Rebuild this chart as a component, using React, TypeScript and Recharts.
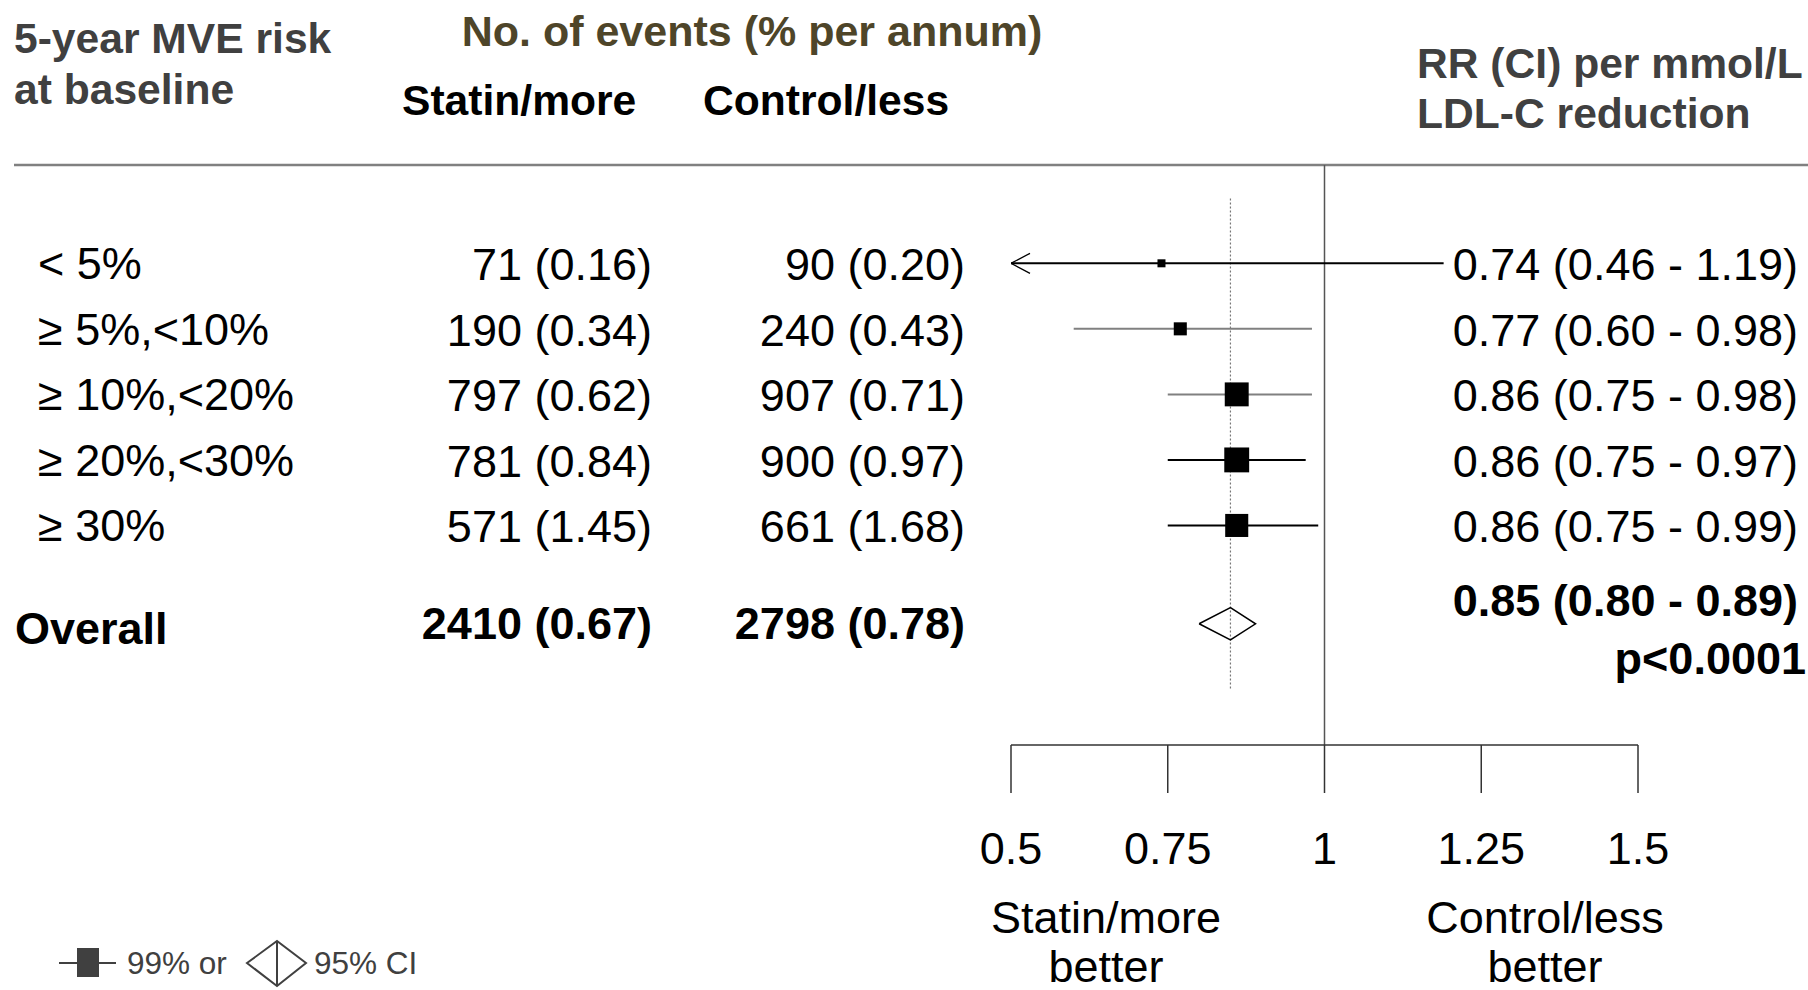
import {
  ComposedChart,
  XAxis,
  YAxis,
  Scatter,
  Line,
  ReferenceLine,
  Customized,
} from 'recharts';

const FONT = '"Liberation Sans", Arial, Helvetica, sans-serif';

// Table rows (5-year MVE risk groups)
const RISK_GROUPS = ['< 5%', '≥ 5%,<10%', '≥ 10%,<20%', '≥ 20%,<30%', '≥ 30%'];
const STATIN_EVENTS = [71, 190, 797, 781, 571];
const STATIN_RATE = [0.16, 0.34, 0.62, 0.84, 1.45];
const CONTROL_EVENTS = [90, 240, 907, 900, 661];
const CONTROL_RATE = [0.2, 0.43, 0.71, 0.97, 1.68];
const RR = [0.74, 0.77, 0.86, 0.86, 0.86];
const RR_LO = [0.46, 0.6, 0.75, 0.75, 0.75];
const RR_HI = [1.19, 0.98, 0.98, 0.97, 0.99];

// Overall row
const OVERALL_STATIN = [2410, 0.67];
const OVERALL_CONTROL = [2798, 0.78];
const OVERALL_RR = [0.85, 0.8, 0.89];
const OVERALL_P = 'p<0.0001';

const X_TICKS = [0.5, 0.75, 1, 1.25, 1.5];
const X_MIN = 0.5;
const X_MAX = 1.5;

// row slots on the y axis
const ROW_POS = [0, 1, 2, 3, 4];
const OVERALL_POS = 5.5;

// line colours per row, as in the original slide
const CI_STROKES = ['#000', '#808080', '#808080', '#000', '#000'];
const SQUARE_K = 6.4; // square side ~ 1 / log CI width
const DIAMOND_HALF = 0.245;

// column anchors (right edges of the number columns)
const COL_STATIN = 652;
const COL_CONTROL = 965;
const COL_RR = 1798;

const rows = RISK_GROUPS.map((label, i) => ({
  label,
  x: RR[i],
  y: ROW_POS[i],
  lo: RR_LO[i],
  hi: RR_HI[i],
}));

const arrows = rows.filter(r => r.lo < X_MIN).map(r => ({ x: X_MIN, y: r.y }));

const diamond = [
  { x: OVERALL_RR[1], y: OVERALL_POS },
  { x: OVERALL_RR[0], y: OVERALL_POS - DIAMOND_HALF },
  { x: OVERALL_RR[2], y: OVERALL_POS },
  { x: OVERALL_RR[0], y: OVERALL_POS + DIAMOND_HALF },
  { x: OVERALL_RR[1], y: OVERALL_POS },
];

const fmt = (n: number, r: number) => `${n} (${r.toFixed(2)})`;
const fmtRR = (e: number, lo: number, hi: number) =>
  `${e.toFixed(2)} (${lo.toFixed(2)} - ${hi.toFixed(2)})`;

function RowTick({ y, payload }: any) {
  const v = Number(payload.value);
  if (v === OVERALL_POS) {
    return (
      <g fontFamily={FONT} fontSize={45} fontWeight="bold" fill="#000">
        <text x={15} y={y + 20} fill="#000">Overall</text>
        <text x={COL_STATIN} y={y + 15} textAnchor="end" fill="#000">
          {fmt(OVERALL_STATIN[0], OVERALL_STATIN[1])}
        </text>
        <text x={COL_CONTROL} y={y + 15} textAnchor="end" fill="#000">
          {fmt(OVERALL_CONTROL[0], OVERALL_CONTROL[1])}
        </text>
        <text x={COL_RR} y={y - 8} textAnchor="end" fill="#000">
          {fmtRR(OVERALL_RR[0], OVERALL_RR[1], OVERALL_RR[2])}
        </text>
        <text x={1806} y={y + 50} textAnchor="end" fill="#000">{OVERALL_P}</text>
      </g>
    );
  }
  const i = ROW_POS.indexOf(v);
  if (i < 0) return <g />;
  return (
    <g fontFamily={FONT} fontSize={45} fill="#000">
      <text x={38} y={y + 16} fill="#000">{RISK_GROUPS[i]}</text>
      <text x={COL_STATIN} y={y + 17} textAnchor="end" fill="#000">
        {fmt(STATIN_EVENTS[i], STATIN_RATE[i])}
      </text>
      <text x={COL_CONTROL} y={y + 17} textAnchor="end" fill="#000">
        {fmt(CONTROL_EVENTS[i], CONTROL_RATE[i])}
      </text>
      <text x={COL_RR} y={y + 17} textAnchor="end" fill="#000">
        {fmtRR(RR[i], RR_LO[i], RR_HI[i])}
      </text>
    </g>
  );
}

function AxisTick({ x, y, payload }: any) {
  return (
    <text x={x} y={y + 71} textAnchor="middle" fontFamily={FONT} fontSize={45} fill="#000">
      {payload.value}
    </text>
  );
}

const squareShape = (props: any) => {
  const { cx, cy, payload } = props;
  const s = Math.max(8, SQUARE_K / Math.log(payload.hi / payload.lo));
  return <rect x={cx - s / 2} y={cy - s / 2} width={s} height={s} fill="#000" />;
};

const arrowShape = (props: any) => {
  const { cx, cy } = props;
  return (
    <path
      d={`M${cx + 19},${cy - 10} L${cx},${cy} L${cx + 19},${cy + 10}`}
      fill="none"
      stroke="#000"
      strokeWidth={1.3}
    />
  );
};

function Decorations() {
  return (
    <g fontFamily={FONT}>
      {/* column headers */}
      <text x={14} y={53} fontSize={42.6} fontWeight="bold" fill="#404040">5-year MVE risk</text>
      <text x={14} y={104} fontSize={42.6} fontWeight="bold" fill="#404040">at baseline</text>
      <text x={752} y={46} fontSize={43} fontWeight="bold" fill="#4e4529" textAnchor="middle">
        No. of events (% per annum)
      </text>
      <text x={402} y={115} fontSize={42.6} fontWeight="bold" fill="#000">Statin/more</text>
      <text x={703} y={115} fontSize={42.6} fontWeight="bold" fill="#000">Control/less</text>
      <text x={1417} y={78} fontSize={42.6} fontWeight="bold" fill="#404040">RR (CI) per mmol/L</text>
      <text x={1417} y={128} fontSize={42.6} fontWeight="bold" fill="#404040">LDL-C reduction</text>
      <line x1={14} y1={165} x2={1808} y2={165} stroke="#808080" strokeWidth={2.5} />

      {/* axis captions */}
      <text x={1106} y={933} fontSize={45} textAnchor="middle" fill="#000">Statin/more</text>
      <text x={1106} y={982} fontSize={45} textAnchor="middle" fill="#000">better</text>
      <text x={1545} y={933} fontSize={45} textAnchor="middle" fill="#000">Control/less</text>
      <text x={1545} y={982} fontSize={45} textAnchor="middle" fill="#000">better</text>

      {/* legend */}
      <line x1={59} y1={963} x2={116} y2={963} stroke="#404040" strokeWidth={2} />
      <rect x={77} y={948} width={22} height={29} fill="#404040" />
      <text x={127} y={974} fontSize={31.5} fill="#404040">99% or</text>
      <path d="M247,963 L277,941 L306,963 L277,986 Z" fill="none" stroke="#404040" strokeWidth={2} />
      <line x1={277} y1={941} x2={277} y2={986} stroke="#404040" strokeWidth={2} />
      <text x={314} y={974} fontSize={31.5} fill="#404040">95% CI</text>
    </g>
  );
}

export default function App() {
  return (
    <div style={{ position: 'absolute', left: 0, top: 0, background: '#fff' }}>
      <ComposedChart
        width={1808}
        height={990}
        margin={{ top: 165, right: 170, bottom: 115, left: 971 }}
      >
        <XAxis
          type="number"
          dataKey="x"
          domain={[X_MIN, X_MAX]}
          ticks={X_TICKS}
          interval={0}
          allowDataOverflow
          height={130}
          tickSize={48}
          tickMargin={0}
          axisLine={{ stroke: '#333', strokeWidth: 1.5 }}
          tickLine={{ stroke: '#333', strokeWidth: 1.5 }}
          tick={AxisTick}
        />
        <YAxis
          type="number"
          dataKey="y"
          domain={[-1.5, 7.35]}
          reversed
          allowDataOverflow
          ticks={[...ROW_POS, OVERALL_POS]}
          interval={0}
          width={40}
          axisLine={false}
          tickLine={false}
          tick={RowTick}
        />
        <Customized component={Decorations} />

        {/* no-effect line and overall estimate */}
        <ReferenceLine x={1} stroke="#555" strokeWidth={1.5} />
        <ReferenceLine
          segment={[{ x: OVERALL_RR[0], y: -0.99 }, { x: OVERALL_RR[0], y: 6.51 }]}
          stroke="#777"
          strokeWidth={1.2}
          strokeDasharray="2 2"
        />

        {/* confidence intervals */}
        {rows.map((r, i) => (
          <ReferenceLine
            key={r.label}
            segment={[{ x: Math.max(r.lo, X_MIN), y: r.y }, { x: r.hi, y: r.y }]}
            stroke={CI_STROKES[i]}
            strokeWidth={2}
            ifOverflow="visible"
          />
        ))}

        <Scatter data={arrows} shape={arrowShape} isAnimationActive={false} />
        <Scatter data={rows} shape={squareShape} isAnimationActive={false} />
        <Line
          data={diamond}
          dataKey="y"
          type="linear"
          stroke="#000"
          strokeWidth={1.5}
          fill="none"
          dot={false}
          activeDot={false}
          isAnimationActive={false}
        />
      </ComposedChart>
    </div>
  );
}
